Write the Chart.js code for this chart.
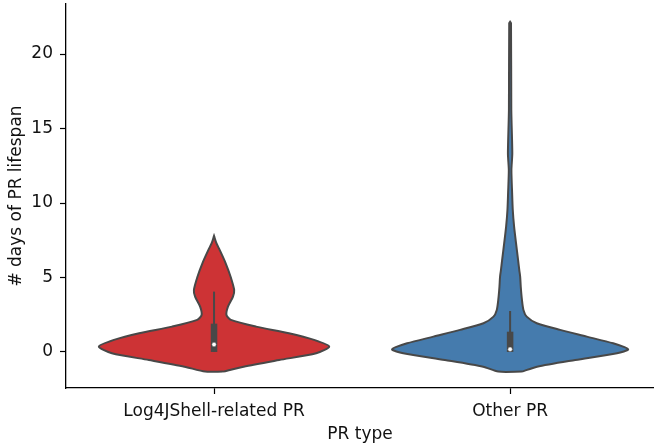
<!DOCTYPE html>
<html>
<head>
<meta charset="utf-8">
<script src="https://cdn.jsdelivr.net/npm/chart.js@4.4.0/dist/chart.umd.min.js"></script>
<style>
    body { margin: 0; background: #fff; }
    #wrap { width: 654px; height: 444px; }
</style>
</head>
<body>
<div id="wrap"><canvas id="violin-chart"></canvas></div>
<script>
const categories = ['Log4JShell-related PR', 'Other PR'];
const yTicks = [0, 5, 10, 15, 20];

// violin outlines: y value and half width (category units)
const log4jY = [-1.32, -0.99, -0.54, -0.09, 0.36, 0.81, 1.26, 1.70, 2.15, 2.48, 3.04, 3.71, 4.16, 5.05, 5.97, 6.85, 7.30, 7.79];
const log4jW = [0.03, 0.10, 0.22, 0.345, 0.389, 0.338, 0.253, 0.142, 0.057, 0.042, 0.047, 0.064, 0.068, 0.056, 0.039, 0.019, 0.008, 0];

const otherY = [-1.32, -0.99, -0.54, -0.09, 0.18, 0.58, 1.03, 1.48, 1.93, 2.37, 2.82, 3.49, 4.38, 5.05, 5.50, 6.17, 7.30, 8.41, 9.53, 10.67, 12.21, 13.34, 16.24, 22.08, 22.17];
const otherW = [0.04, 0.091, 0.22, 0.361, 0.399, 0.348, 0.259, 0.169, 0.090, 0.056, 0.045, 0.040, 0.036, 0.034, 0.031, 0.027, 0.020, 0.0135, 0.009, 0.0068, 0.0044, 0.0074, 0.004, 0.003, 0];

// inner box: quartiles, whisker ends, median
const log4jBox = [0, 1.9];
const log4jWhisker = [0, 4.05];
const log4jMedian = 0.5;
const otherBox = [0, 1.36];
const otherWhisker = [0, 2.75];
const otherMedian = 0.18;

const gray = '#484848';
const log4jColor = '#cd3335';
const otherColor = '#457bad';

function violinOutline(center, ys, ws) {
    const right = ys.map((y, i) => ({ x: center + ws[i], y: y }));
    const left = ys.map((y, i) => ({ x: center - ws[i], y: y })).reverse();
    const pts = right.concat(left);
    pts.push(pts[0]);
    return pts;
}

function vline(center, range) {
    return [{ x: center, y: range[0] }, { x: center, y: range[1] }];
}

function violinDatasets(center, ys, ws, box, whisker, median, color) {
    return [
        {
            data: violinOutline(center, ys, ws),
            showLine: true,
            fill: 'shape',
            backgroundColor: color,
            borderColor: gray,
            borderWidth: 2,
            pointRadius: 0,
            tension: 0.25,
            order: 3,
        },
        {
            data: vline(center, whisker),
            showLine: true,
            borderColor: gray,
            borderWidth: 2,
            pointRadius: 0,
            order: 2,
        },
        {
            data: vline(center, box),
            showLine: true,
            borderColor: gray,
            borderWidth: 6.5,
            borderCapStyle: 'butt',
            pointRadius: 0,
            order: 1,
        },
        {
            data: [{ x: center, y: median }],
            showLine: false,
            pointRadius: 2.2,
            pointBackgroundColor: '#fff',
            pointBorderColor: gray,
            pointBorderWidth: 0.4,
            order: 0,
        },
    ];
}

Chart.defaults.font.family = 'DejaVu Sans';
Chart.defaults.font.size = 17;
Chart.defaults.color = '#111';

const ctx = document.getElementById('violin-chart').getContext('2d');

new Chart(ctx, {
    type: 'scatter',
    data: {
        datasets: [
            ...violinDatasets(0, log4jY, log4jW, log4jBox, log4jWhisker, log4jMedian, log4jColor),
            ...violinDatasets(1, otherY, otherW, otherBox, otherWhisker, otherMedian, otherColor),
        ],
    },
    options: {
        responsive: true,
        maintainAspectRatio: false,
        animation: false,
        layout: { autoPadding: false, padding: { top: 4, right: 0, left: 0, bottom: 0 } },
        plugins: {
            legend: { display: false },
            tooltip: { enabled: false },
        },
        scales: {
            x: {
                type: 'linear',
                min: -0.5,
                max: 1.486,
                afterBuildTicks: (scale) => { scale.ticks = categories.map((c, i) => ({ value: i })); },
                afterFit: (scale) => {
                    scale.height = 56;
                    scale.paddingLeft = 0;
                    scale.paddingRight = 0;
                },
                ticks: {
                    padding: 7,
                    maxRotation: 0,
                    callback: (value) => categories[value],
                },
                grid: { drawOnChartArea: false, tickLength: 6, tickColor: '#000', tickWidth: 1.2 },
                border: { display: true, color: '#000', width: 1.3 },
                title: { display: true, text: 'PR type', padding: { top: 4, bottom: -1 } },
            },
            y: {
                type: 'linear',
                min: -2.42,
                max: 23.36,
                afterBuildTicks: (scale) => { scale.ticks = yTicks.map((v) => ({ value: v })); },
                afterFit: (scale) => {
                    scale.width = 66;
                    scale.paddingTop = 0;
                    scale.paddingBottom = 0;
                },
                ticks: { padding: 7 },
                grid: { drawOnChartArea: false, tickLength: 6, tickColor: '#000', tickWidth: 1.2 },
                border: { display: true, color: '#000', width: 1.3 },
                title: { display: true, text: '# days of PR lifespan', padding: { top: 6, bottom: 4 } },
            },
        },
    },
});
</script>
</body>
</html>
